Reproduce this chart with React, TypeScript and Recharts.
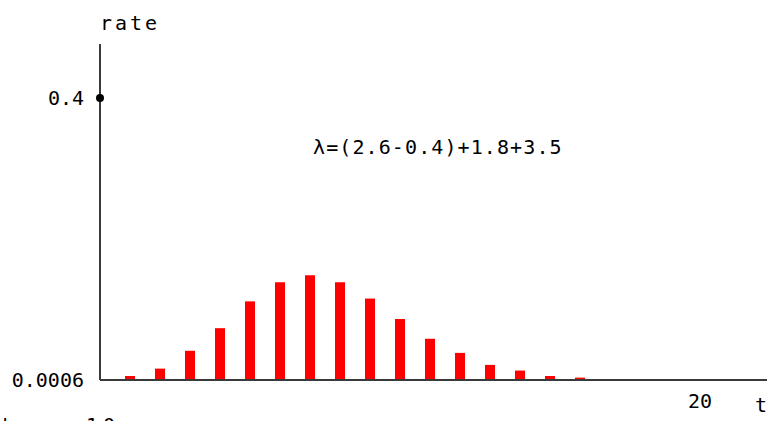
import React from "react";
import { ComposedChart, Bar, XAxis, YAxis, ReferenceDot, Customized } from "recharts";

const tValues = [1, 2, 3, 4, 5, 6, 7, 8, 9, 10, 11, 12, 13, 14, 15, 16];
const rates = [0.0063, 0.0167, 0.042, 0.074, 0.112, 0.139, 0.149, 0.139, 0.116, 0.087, 0.059, 0.039, 0.022, 0.014, 0.0063, 0.004];
const yTicks = [0.0006, 0.4];
const xTicks = [20];
const formulaText = "λ=(2.6-0.4)+1.8+3.5";

const data = tValues.map((t, i) => ({ t, rate: rates[i] }));

const FONT = "'DejaVu Sans Mono', monospace";

const Overlay = () => (
  <g fontFamily={FONT} fill="#000">
    <text x={100} y={30} fontSize={20} letterSpacing={3}>rate</text>
    <text x={313} y={154} fontSize={20} letterSpacing={1.1}>{formulaText}</text>
    <text x={755} y={412} fontSize={20}>t</text>
    <text x={0} y={432} fontSize={20}>t</text>
    <text x={86} y={432} fontSize={20} letterSpacing={5}>10</text>
  </g>
);

export default function App() {
  return (
    <div style={{ position: "absolute", left: 0, top: 0, width: 767, height: 421, background: "#fff" }}>
      <ComposedChart width={767} height={421} data={data} margin={{ top: 44, right: 0, bottom: 0, left: 0 }}>
        <XAxis
          dataKey="t"
          type="number"
          domain={[0, 22.233]}
          ticks={xTicks}
          height={41}
          tickSize={0}
          tickMargin={14}
          axisLine={{ stroke: "#3a3a3a", strokeWidth: 2 }}
          tick={{ fontFamily: FONT, fontSize: 20, fill: "#000", letterSpacing: 0 }}
          allowDataOverflow
        />
        <YAxis
          type="number"
          domain={[0.0006, 0.4766]}
          ticks={yTicks}
          width={100}
          tickSize={0}
          tickMargin={16}
          axisLine={{ stroke: "#3a3a3a", strokeWidth: 2 }}
          tick={{ fontFamily: FONT, fontSize: 20, fill: "#000", letterSpacing: 0 }}
          tickFormatter={(v: number) => (v === 0.4 ? "0.4" : "0.0006")}
          allowDataOverflow
        />
        <Bar dataKey="rate" fill="#ff0000" barSize={10} isAnimationActive={false} />
        <ReferenceDot x={0} y={0.4} r={4} fill="#000" stroke="none" ifOverflow="visible" />
        <Customized component={Overlay} />
      </ComposedChart>
    </div>
  );
}
